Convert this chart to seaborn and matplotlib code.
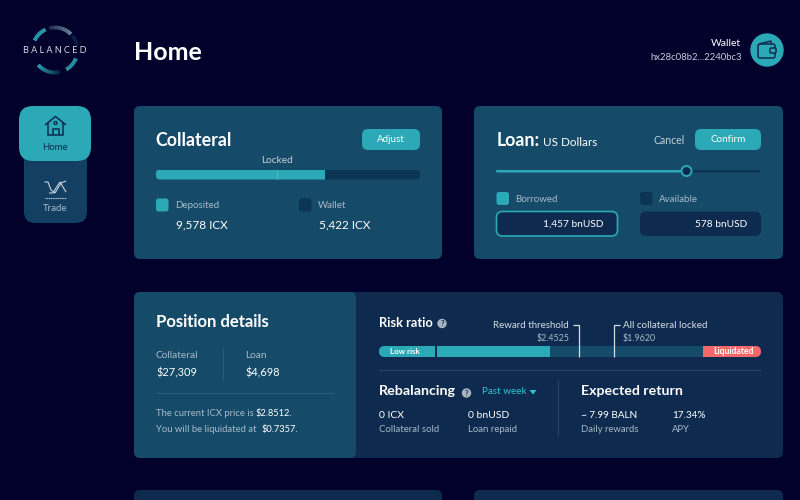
import matplotlib
matplotlib.use('Agg')
import matplotlib.pyplot as plt
import seaborn as sns
from matplotlib.patches import FancyBboxPatch, Circle, Arc, Polygon

# values
collateral_labels = ['Deposited', 'Wallet']
collateral_icx = [9578, 5422]
locked_icx = 6870
loan_labels = ['Borrowed', 'Available']
loan_bnusd = [1457, 578]
position_labels = ['Collateral', 'Loan']
position_usd = [27309, 4698]
icx_price = 2.8512
liquidation_price = 0.7357
reward_threshold = 2.4525
all_locked_price = 1.9620
# price scale of the risk bar runs right to left
risk_edges = [5.208, 4.44, 4.41, icx_price, liquidation_price, -0.068]
rebalancing_values = ['0 ICX', '0 bnUSD']
rebalancing_labels = ['Collateral sold', 'Loan repaid']
return_values = ['~ 7.99 BALN', '17.34%']
return_labels = ['Daily rewards', 'APY']

BG = '#01012b'
CARD = '#154a69'
DARK = '#0e2a4e'
TRACK = '#0c3554'
TEAL = '#2ca9b7'
RED = '#f4686a'
GREY = '#a8bac8'
LIGHT = '#d5dde2'
WHITE = '#ffffff'

sns.set_theme(style='white')
plt.rcParams['font.family'] = ['Lato', 'DejaVu Sans']

fig = plt.figure(figsize=(8, 5), dpi=100, facecolor=BG)


def pixel_axes(z):
    a = fig.add_axes([0, 0, 1, 1], zorder=z)
    a.set_xlim(0, 800)
    a.set_ylim(500, 0)
    a.axis('off')
    return a


# cards under the bars, texts and lines over them
ax = pixel_axes(1)
top = pixel_axes(3)


def box(x0, y0, x1, y1, color, r=6, edge='none', lw=0, z=1):
    p = FancyBboxPatch((x0, y0), x1 - x0, y1 - y0, boxstyle=f'round,pad=0,rounding_size={r}',
                       facecolor=color, edgecolor=edge, linewidth=lw, zorder=z)
    ax.add_patch(p)
    return p


def label(x, y, s, size=7, color=WHITE, weight='normal', ha='left'):
    top.text(x, y, s, fontsize=size, color=color, fontweight=weight, ha=ha, va='center', zorder=6)


def line(xs, ys, color=WHITE, lw=1.0):
    top.plot(xs, ys, color=color, lw=lw, zorder=5, solid_capstyle='butt', solid_joinstyle='miter')


def bar_axes(x0, y0, x1, y1):
    return fig.add_axes([x0 / 800, 1 - y1 / 500, (x1 - x0) / 800, (y1 - y0) / 500], zorder=2)


def stacked_bar(x0, y0, x1, y1, edges, colors, r):
    # one horizontal bar per segment, clipped to a rounded track
    a = bar_axes(x0, y0, x1, y1)
    for start, end, c in zip(edges[:-1], edges[1:], colors):
        sns.barplot(x=[end - start], y=[0], left=[start], orient='h', color=c, saturation=1,
                    width=1, linewidth=0, edgecolor='none', ax=a)
    a.set_xlim(edges[0], edges[-1])
    a.axis('off')
    clip = FancyBboxPatch((x0, y0), x1 - x0, y1 - y0, boxstyle=f'round,pad=0,rounding_size={r}',
                          transform=ax.transData)
    for patch in a.patches:
        patch.set_clip_path(clip)
    return a


def fade_arc(a1, a2, alpha1, alpha2, color=TEAL, steps=12):
    # logo ring piece, angles counter-clockwise as seen on screen
    for i in range(steps):
        t1 = a1 + (a2 - a1) * i / steps
        t2 = a1 + (a2 - a1) * (i + 1) / steps
        al = alpha1 + (alpha2 - alpha1) * i / (steps - 1)
        ax.add_patch(Arc((55, 50), 45, 45, theta1=-t2, theta2=-t1, color=color, alpha=al, lw=2.8,
                         zorder=3, capstyle='butt'))


# cards
box(19, 106, 91, 161, TEAL, r=14, z=3)
box(24, 140, 87, 223, '#133f63', r=11, z=2)
box(134, 106, 442, 259, CARD)
box(474, 106, 783, 259, CARD)
box(340, 292, 783, 458, DARK, z=1)
box(134, 292, 356, 458, CARD, z=2)
box(134, 490, 442, 520, DARK)
box(474, 490, 783, 520, DARK)

# logo
fade_arc(115, 155, 1, 1)
fade_arc(45, 105, .75, .25, color='#8fb6c4')
fade_arc(10, 40, .15, .2)
fade_arc(-60, -22, .95, .95)
fade_arc(222, 282, 1, .25)
label(55, 50.5, 'B A L A N C E D', size=6.5, color=LIGHT, ha='center')

# header
label(133.5, 53, 'Home', size=18, weight='bold')
label(741, 43, 'Wallet', size=7.5, ha='right')
label(741.5, 57, 'hx28c08b2...2240bc3', size=6.8, color='#c3cfd8', ha='right')
ax.add_patch(Circle((767, 50), 16, color=TEAL, zorder=3))
ax.add_patch(FancyBboxPatch((758, 44), 17, 14, boxstyle='round,pad=0,rounding_size=2', facecolor='none',
                            edgecolor=DARK, lw=1.1, zorder=4))
line([759, 771, 771], [44, 41, 44], DARK, 1.1)
ax.add_patch(FancyBboxPatch((770, 48), 6, 5, boxstyle='round,pad=0,rounding_size=1', facecolor=TEAL,
                            edgecolor=DARK, lw=1.1, zorder=5))

# sidebar icons
line([45, 55.5, 66], [125, 116.5, 125], DARK, 1.1)
line([48, 48, 63, 63], [122, 135, 135, 122], DARK, 1.1)
line([52.5, 52.5, 58.5, 58.5], [135, 128.5, 128.5, 135], DARK, 1.1)
top.add_patch(Circle((55.5, 123), 1.5, facecolor='none', edgecolor=DARK, lw=.9, zorder=5))
label(55, 147, 'Home', size=6.9, color=DARK, ha='center')
line([44.5, 48, 51, 55, 58, 61, 66], [182, 182, 190, 193, 188, 183, 181], '#c7d3dc', .8)
line([49, 53, 56, 60, 63, 66], [193, 193, 188, 182, 187, 192], '#c7d3dc', .8)
top.plot([45, 66], [197.5, 197.5], color='#c7d3dc', lw=.8, ls=(0, (1, .6)), zorder=5)
label(55, 208.5, 'Trade', size=7, color=GREY, ha='center')

# collateral card
label(155.5, 141, 'Collateral', size=12.8, weight='bold')
box(362, 129, 420, 150, TEAL, r=6)
label(391, 140, 'Adjust', size=7, ha='center')
label(277, 160.5, 'Locked', size=7.3, color='#c3cfd8', ha='center')
stacked_bar(156, 169.5, 420, 179.5, [0, collateral_icx[0], sum(collateral_icx)], [TEAL, TRACK], 4)
locked_ax = bar_axes(156, 169.5, 420, 179.5)
sns.lineplot(x=[locked_icx, locked_icx], y=[0, 1], color='#d8f0f2', lw=1, ax=locked_ax)
locked_ax.set_xlim(0, sum(collateral_icx))
locked_ax.set_ylim(0, 1)
locked_ax.axis('off')
for x, name, val, c in zip([156, 299], collateral_labels, collateral_icx, [TEAL, TRACK]):
    box(x, 198.5, x + 12.5, 211.5, c, r=2.5)
    label(x + 19, 205, name, size=7, color=GREY)
    label(x + 20, 224.5, f'{val:,} ICX', size=8.5)

# loan card
label(496.5, 141, 'Loan:', size=12.8, weight='bold')
label(543, 143, 'US Dollars', size=8.4)
label(653, 140.5, 'Cancel', size=7.6, color='#c3cfd8')
box(695, 129, 761, 150, TEAL, r=6)
label(728, 140, 'Confirm', size=7.1, ha='center')
stacked_bar(496, 169.5, 760, 172.5, [0, loan_bnusd[0], sum(loan_bnusd)], [TEAL, TRACK], 1.5)
top.add_patch(Circle((686.5, 171), 5, facecolor=DARK, edgecolor=TEAL, lw=1.4, zorder=6))
for x, name, val, c, edge in zip([496.5, 640], loan_labels, loan_bnusd, [TEAL, TRACK], [TEAL, 'none']):
    box(x, 192, x + 12.5, 205, c, r=2.5)
    label(x + 19, 199, name, size=7, color=GREY)
    box(x, 211.5, x + 121, 236, DARK, r=6, edge=edge, lw=1.2)
    label(x + 107, 224.5, f'{val:,} bnUSD', size=7.3, ha='right')

# position details
label(155.5, 322, 'Position details', size=12, weight='bold')
for x, name, val in zip([156, 245], position_labels, position_usd):
    label(x, 355, name, size=7.3, color=GREY)
    label(x, 373, f'${val:,}', size=7.9)
line([223, 223], [348, 380], '#2a5d7c', .8)
line([156, 334], [393, 393], '#2a5d7c', .8)
label(156, 413.5, 'The current ICX price is', size=6.8, color=GREY)
label(256, 413.5, f'${icx_price}.', size=6.7)
label(156, 429.5, 'You will be liquidated at', size=6.8, color=GREY)
label(262, 429.5, f'${liquidation_price}.', size=6.7)

# risk ratio
label(379, 323, 'Risk ratio', size=9.2, weight='bold')
for x, y in [(442, 323.5), (466.5, 393)]:
    top.add_patch(Circle((x, y), 4, color='#a8b5c0', zorder=5))
    label(x, y, '?', size=5.5, color=DARK, weight='bold', ha='center')
risk_ax = stacked_bar(379, 346, 761, 357, risk_edges, [TEAL, DARK, TEAL, CARD, RED], 5.5)
label(404.5, 352, 'Low risk', size=5.8, weight='bold', ha='center')
label(733, 352, 'Liquidated', size=6.2, weight='bold', ha='center')
label(568.5, 325, 'Reward threshold', size=7, color=LIGHT, ha='right')
label(569, 338, f'${reward_threshold}', size=6.4, color=GREY, ha='right')
label(623, 325, 'All collateral locked', size=7.1, color=LIGHT)
label(623, 338, f'${all_locked_price:.4f}', size=6.4, color=GREY)
for price, tick in [(reward_threshold, -5.5), (all_locked_price, 5.5)]:
    px = risk_ax.transData.transform((price, 0))[0]
    line([px + tick, px, px], [325, 325, 357], LIGHT, .9)
line([379, 761], [370, 370], '#24466a', .8)

# rebalancing / expected return
label(379, 391, 'Rebalancing', size=10.3, weight='bold')
label(482.5, 392, 'Past week', size=7.1, color='#2fc5d3')
top.add_patch(Polygon([[529.5, 390], [536.5, 390], [533, 394.5]], facecolor='#2fc5d3', edgecolor='none', zorder=5))
label(581, 391, 'Expected return', size=10.2, weight='bold')
line([558, 558], [380, 436], '#24466a', .8)
for x, val, name in zip([379, 468], rebalancing_values, rebalancing_labels):
    label(x, 415, val, size=7.5)
    label(x, 430, name, size=6.9, color=GREY)
for x, val, name in zip([581, 672], return_values, return_labels):
    label(x, 415, val, size=7.2)
    label(x, 430, name, size=6.8, color=GREY)

fig.savefig('out.png', dpi=100, facecolor=BG)
